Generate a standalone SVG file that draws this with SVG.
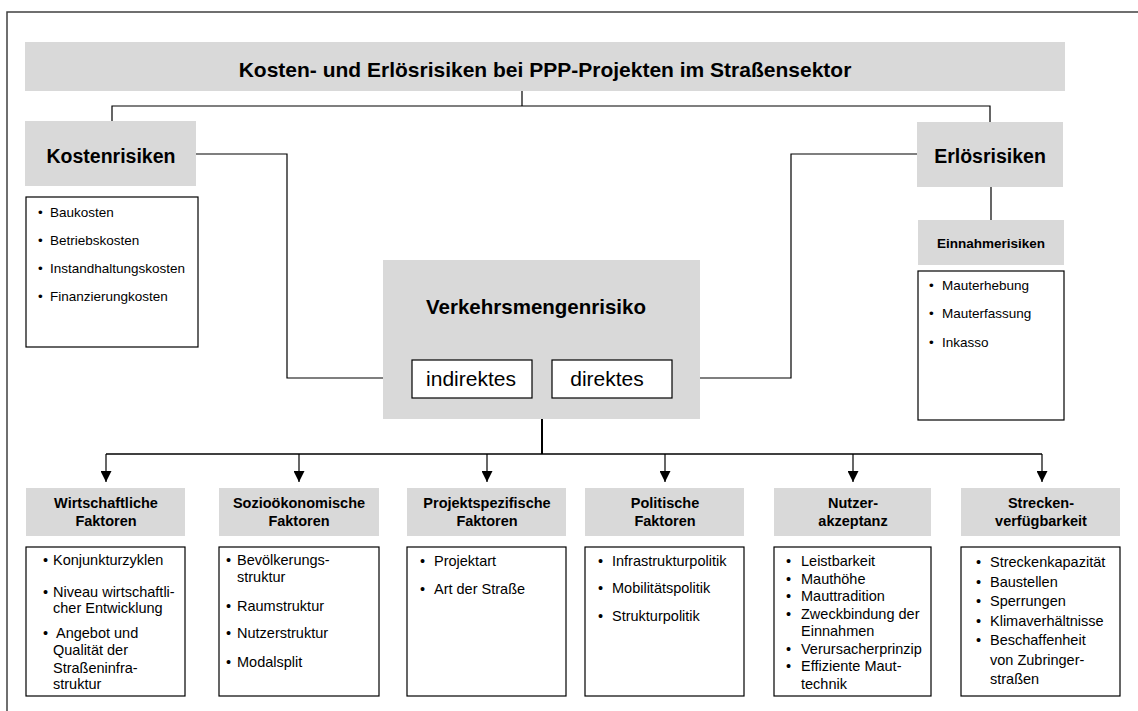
<svg xmlns="http://www.w3.org/2000/svg" width="1138" height="711" viewBox="0 0 1138 711">
<style>
text{font-family:"Liberation Sans",Arial,sans-serif;fill:#000}
.g{fill:#d9d9d9}
.b{fill:#fff;stroke:#000;stroke-width:1.2}
.t1{font-size:21px;font-weight:bold;text-anchor:middle}
.t2{font-size:19.5px;font-weight:bold;text-anchor:middle}
.t3{font-size:13.5px;font-weight:bold;text-anchor:middle}
.h{font-size:14.5px;font-weight:bold;text-anchor:middle}
.s{font-size:13.5px}
.l{font-size:14.5px}
.w{font-size:21px;text-anchor:middle}
.c{fill:none;stroke:#000;stroke-width:1.2}
</style>
<defs>
<marker id="arr" viewBox="0 0 10 10" refX="10" refY="5" markerWidth="11" markerHeight="11" markerUnits="userSpaceOnUse" orient="auto"><path d="M0,0 L10,5 L0,10 z" fill="#000"/></marker>
</defs>
<rect width="1138" height="711" fill="#fff"/>
<path d="M7,711 V12 H1138" fill="none" stroke="#404040" stroke-width="1.5"/>

<g id="connectors">
<path class="c" d="M522,91 V106"/>
<path class="c" d="M112,121 V106 H990 V122"/>
<path class="c" d="M196,154 H287 V378 H412"/>
<path class="c" d="M917,154 H791 V378 H672"/>
<path class="c" d="M991,187 V220"/>
<path d="M542,419 V454" fill="none" stroke="#000" stroke-width="2"/>
<path d="M106,454 H1042" fill="none" stroke="#000" stroke-width="1.6"/>
<path class="c" d="M106,454 V482" marker-end="url(#arr)"/>
<path class="c" d="M299,454 V482" marker-end="url(#arr)"/>
<path class="c" d="M487,454 V482" marker-end="url(#arr)"/>
<path class="c" d="M665,454 V482" marker-end="url(#arr)"/>
<path class="c" d="M853,454 V482" marker-end="url(#arr)"/>
<path class="c" d="M1042,454 V482" marker-end="url(#arr)"/>
</g>

<g id="title">
<rect class="g" x="25" y="42" width="1040" height="49"/>
<text class="t1" x="545" y="77">Kosten- und Erlösrisiken bei PPP-Projekten im Straßensektor</text>
</g>

<g id="kostenrisiken">
<rect class="g" x="25" y="121" width="171" height="65"/>
<text class="t2" x="111" y="163">Kostenrisiken</text>
</g>
<g id="kostenrisiken-liste">
<rect class="b" x="26" y="197" width="172" height="150"/>
<text class="s" x="38" y="217">•</text><text class="s" x="50" y="217">Baukosten</text>
<text class="s" x="38" y="245">•</text><text class="s" x="50" y="245">Betriebskosten</text>
<text class="s" x="38" y="273">•</text><text class="s" x="50" y="273">Instandhaltungskosten</text>
<text class="s" x="38" y="301">•</text><text class="s" x="50" y="301">Finanzierungkosten</text>
</g>

<g id="erloesrisiken">
<rect class="g" x="917" y="122" width="146" height="65"/>
<text class="t2" x="990" y="163">Erlösrisiken</text>
</g>
<g id="einnahmerisiken">
<rect class="g" x="918" y="220" width="146" height="45"/>
<text class="t3" x="991" y="248">Einnahmerisiken</text>
</g>
<g id="einnahmerisiken-liste">
<rect class="b" x="918" y="271" width="146" height="149"/>
<text class="s" x="929" y="290">•</text><text class="s" x="942" y="290">Mauterhebung</text>
<text class="s" x="929" y="318">•</text><text class="s" x="942" y="318">Mauterfassung</text>
<text class="s" x="929" y="347">•</text><text class="s" x="942" y="347">Inkasso</text>
</g>

<g id="verkehrsmengenrisiko">
<rect class="g" x="383" y="260" width="317" height="159"/>
<text class="t2" x="536" y="314" style="font-size:20.5px">Verkehrsmengenrisiko</text>
</g>
<g id="indirektes">
<rect class="b" x="412" y="360" width="120" height="38"/>
<text class="w" x="471" y="386">indirektes</text>
</g>
<g id="direktes">
<rect class="b" x="552" y="360" width="120" height="38"/>
<text class="w" x="607" y="386">direktes</text>
</g>

<g id="wirtschaftliche">
<rect class="g" x="26" y="488" width="159" height="48"/>
<text class="h" x="106" y="508">Wirtschaftliche</text>
<text class="h" x="106" y="526">Faktoren</text>
<rect class="b" x="26" y="547" width="159" height="149"/>
<text class="l" x="43" y="565">•</text><text class="l" x="53" y="565">Konjunkturzyklen</text>
<text class="l" x="43" y="597">•</text><text class="l" x="53" y="597">Niveau wirtschaftli-</text>
<text class="l" x="53" y="613">cher Entwicklung</text>
<text class="l" x="43" y="638">•</text><text class="l" x="56" y="638">Angebot und</text>
<text class="l" x="53" y="655">Qualität der</text>
<text class="l" x="53" y="673">Straßeninfra-</text>
<text class="l" x="53" y="689">struktur</text>
</g>

<g id="soziooekonomische">
<rect class="g" x="219" y="488" width="160" height="48"/>
<text class="h" x="299" y="508">Sozioökonomische</text>
<text class="h" x="299" y="526">Faktoren</text>
<rect class="b" x="219" y="547" width="160" height="149"/>
<text class="l" x="226" y="565">•</text><text class="l" x="237" y="565">Bevölkerungs-</text>
<text class="l" x="237" y="582">struktur</text>
<text class="l" x="226" y="611">•</text><text class="l" x="237" y="611">Raumstruktur</text>
<text class="l" x="226" y="638">•</text><text class="l" x="237" y="638">Nutzerstruktur</text>
<text class="l" x="226" y="667">•</text><text class="l" x="237" y="667">Modalsplit</text>
</g>

<g id="projektspezifische">
<rect class="g" x="407" y="488" width="159" height="48"/>
<text class="h" x="487" y="508">Projektspezifische</text>
<text class="h" x="487" y="526">Faktoren</text>
<rect class="b" x="407" y="547" width="159" height="149"/>
<text class="l" x="420" y="566">•</text><text class="l" x="434" y="566">Projektart</text>
<text class="l" x="420" y="594">•</text><text class="l" x="434" y="594">Art der Straße</text>
</g>

<g id="politische">
<rect class="g" x="585" y="488" width="159" height="48"/>
<text class="h" x="665" y="508">Politische</text>
<text class="h" x="665" y="526">Faktoren</text>
<rect class="b" x="585" y="547" width="159" height="149"/>
<text class="l" x="598" y="566">•</text><text class="l" x="612" y="566">Infrastrukturpolitik</text>
<text class="l" x="598" y="593">•</text><text class="l" x="612" y="593">Mobilitätspolitik</text>
<text class="l" x="598" y="621">•</text><text class="l" x="612" y="621">Strukturpolitik</text>
</g>

<g id="nutzerakzeptanz">
<rect class="g" x="774" y="488" width="157" height="48"/>
<text class="h" x="853" y="508">Nutzer-</text>
<text class="h" x="853" y="526">akzeptanz</text>
<rect class="b" x="774" y="547" width="157" height="149"/>
<text class="l" x="786" y="566">•</text><text class="l" x="801" y="566">Leistbarkeit</text>
<text class="l" x="786" y="583.5">•</text><text class="l" x="801" y="583.5">Mauthöhe</text>
<text class="l" x="786" y="601">•</text><text class="l" x="801" y="601">Mauttradition</text>
<text class="l" x="786" y="618.5">•</text><text class="l" x="801" y="618.5">Zweckbindung der</text>
<text class="l" x="801" y="636">Einnahmen</text>
<text class="l" x="786" y="653.5">•</text><text class="l" x="801" y="653.5">Verursacherprinzip</text>
<text class="l" x="786" y="671">•</text><text class="l" x="801" y="671">Effiziente Maut-</text>
<text class="l" x="801" y="688.5">technik</text>
</g>

<g id="streckenverfuegbarkeit">
<rect class="g" x="961" y="488" width="159" height="48"/>
<text class="h" x="1041" y="508">Strecken-</text>
<text class="h" x="1041" y="526">verfügbarkeit</text>
<rect class="b" x="961" y="547" width="159" height="149"/>
<text class="l" x="976" y="567">•</text><text class="l" x="990" y="567">Streckenkapazität</text>
<text class="l" x="976" y="586.5">•</text><text class="l" x="990" y="586.5">Baustellen</text>
<text class="l" x="976" y="606">•</text><text class="l" x="990" y="606">Sperrungen</text>
<text class="l" x="976" y="625.5">•</text><text class="l" x="990" y="625.5">Klimaverhältnisse</text>
<text class="l" x="976" y="645">•</text><text class="l" x="990" y="645">Beschaffenheit</text>
<text class="l" x="990" y="664.5">von Zubringer-</text>
<text class="l" x="990" y="684">straßen</text>
</g>
</svg>
